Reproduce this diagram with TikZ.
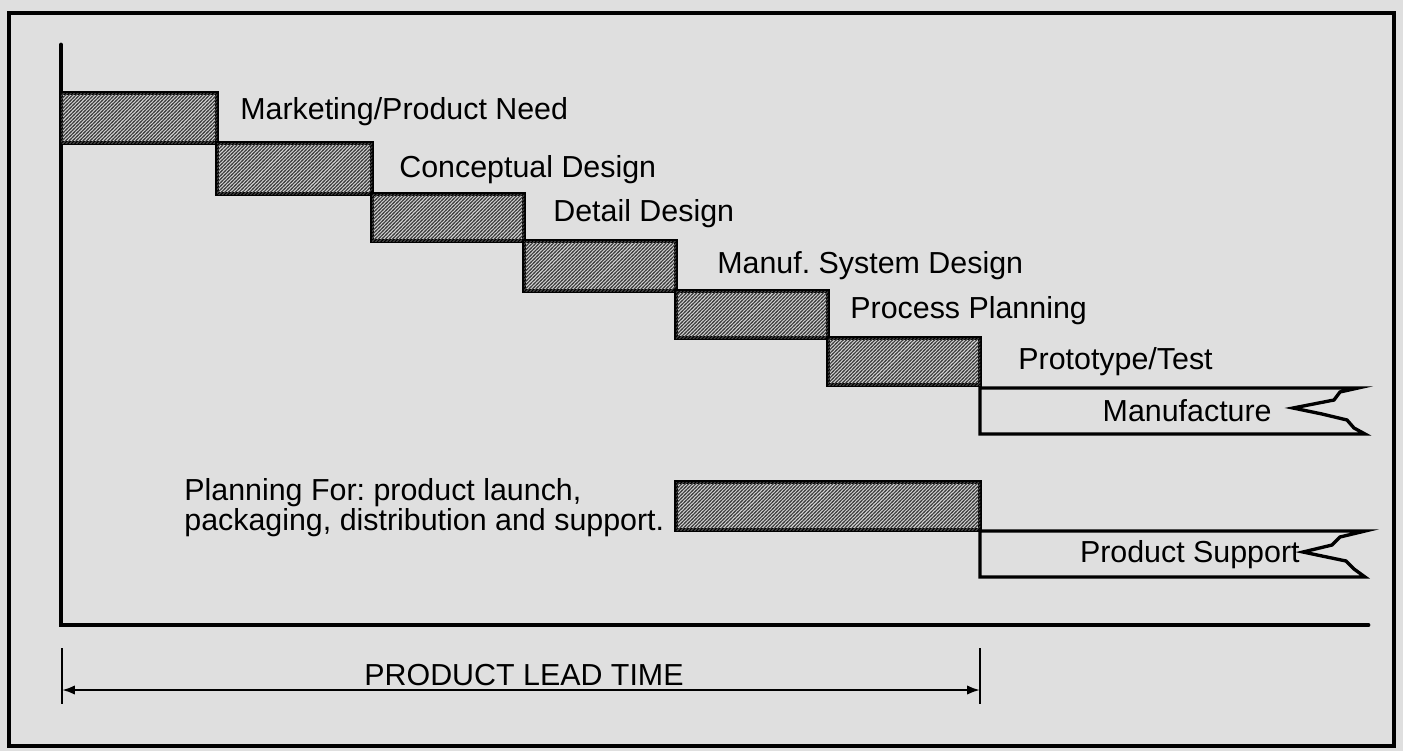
\documentclass[tikz,border=0pt]{standalone}
\usepackage{fontspec}
\setmainfont{Liberation Sans}
\usetikzlibrary{arrows.meta, positioning, patterns}
\pgfdeclarepatternformonly{finediag}{\pgfqpoint{-1pt}{-1pt}}{\pgfqpoint{3pt}{3pt}}{\pgfqpoint{2pt}{2pt}}{%
  \pgfsetlinewidth{0.6pt}
  \pgfpathmoveto{\pgfqpoint{-0.5pt}{-0.5pt}}
  \pgfpathlineto{\pgfqpoint{2.5pt}{2.5pt}}
  \pgfusepath{stroke}}
\frenchspacing

\begin{document}
\begin{tikzpicture}[x=0.02cm, y=-0.02cm,
  frame/.style={line width=2pt},
  axis/.style={line width=2.8pt},
  bar/.style={draw, line width=1.9pt, fill=gray!35,
              postaction={pattern=finediag, pattern color=black!75}},
  band/.style={line width=1.9pt, line join=miter},
  lbl/.style={anchor=west, inner sep=0pt, font=\fontsize{17.3}{15}\selectfont},
  dim/.style={{Latex[length=2.6mm,width=1.9mm]}-{Latex[length=2.6mm,width=1.9mm]}, line width=1.3pt}]

  % background and frame
  \fill[gray!25] (0,0) rectangle (1403,751);
  \draw[frame] (9,13) rectangle (1394,746);

  % axes
  \coordinate (top)    at (61,45);
  \coordinate (origin) at (61,625);
  \coordinate (xend)   at (1368,625);
  \draw[axis, line cap=round] (top) -- (origin) -- (xend);

  % design stages
  \draw[bar] (61,93)   rectangle (217,143);
  \draw[bar] (217,143) rectangle (372,194);
  \draw[bar] (372,194) rectangle (524,241);
  \draw[bar] (524,241) rectangle (676,291);
  \draw[bar] (676,291) rectangle (828,338);
  \draw[bar] (828,338) rectangle (980,385);
  \draw[bar] (676,482) rectangle (980,530);

  \node[lbl] (mkt)   at (240,112)  {Marketing/Product Need};
  \node[lbl] (cdes)  at (399,170)  {Conceptual Design};
  \node[lbl] (ddes)  at (553,214)  {Detail Design};
  \node[lbl] (msys)  at (717,266)  {Manuf. System Design};
  \node[lbl] (pplan) at (850,311)  {Process Planning};
  \node[lbl] (proto) at (1018,362) {Prototype/Test};

  % open ended bands
  \draw[band] (1358,388) -- (980,388) -- (980,434) -- (1365,434)
    -- (1354,428) -- (1347,420) -- (1322,414) -- (1293,408)
    -- (1334,400) -- (1340,392) -- cycle;
  \draw[band] (1365,531) -- (980,531) -- (980,577) -- (1365,577)
    -- (1354,569) -- (1346,561) -- (1322,556) -- (1303,552)
    -- (1332,545) -- (1340,537) -- cycle;
  \node[lbl, anchor=east] (manu) at (1272,411) {Manufacture};
  \node[lbl, anchor=east] (psup) at (1300,555) {Product Support};

  \node[lbl, align=left] (plan) at (184,508)
    {Planning For: product launch,\\packaging, distribution and support.};

  % lead time
  \coordinate (lt0) at (62,690);
  \coordinate (lt1) at (980,690);
  \draw[line width=1.3pt] (62,648) -- (62,704);
  \draw[line width=1.3pt] (980,648) -- (980,704);
  \draw[dim] (lt0) -- (lt1);
  \node[font=\fontsize{17.3}{15}\selectfont, inner sep=0pt] (plt) at (524,675) {PRODUCT LEAD TIME};
\end{tikzpicture}
\end{document}
